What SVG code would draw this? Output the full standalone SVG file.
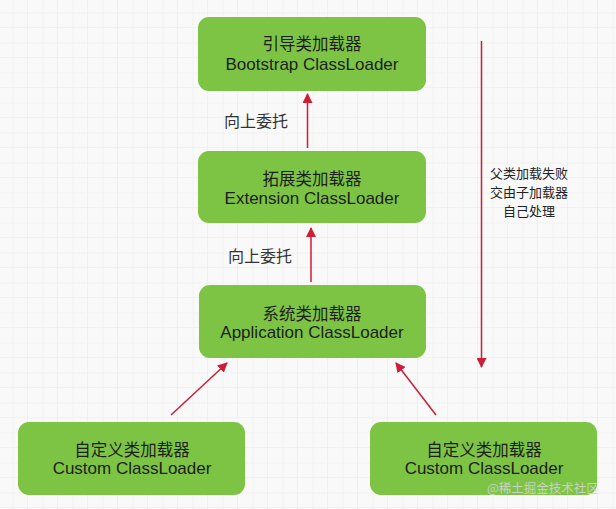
<svg xmlns="http://www.w3.org/2000/svg" width="616" height="509" viewBox="0 0 616 509">
<defs>
<pattern id="grid" x="-2" y="-2" width="30" height="30" patternUnits="userSpaceOnUse">
<path d="M30 0V30M0 30H30" fill="none" stroke="#e9e9e9" stroke-width="1.2"/>
<path d="M15 0V30M0 15H30" fill="none" stroke="#f1f1f1" stroke-width="0.8"/>
</pattern>
<marker id="ah" viewBox="0 0 10 10" refX="9" refY="5" markerWidth="10" markerHeight="10" markerUnits="userSpaceOnUse" orient="auto">
<path d="M0 0L10 5L0 10z" fill="#cc1e36"/>
</marker>
<style>
.box{fill:#7dc444;}
.zh{font-family:"Noto Sans CJK SC",sans-serif;font-size:16.5px;fill:#1d1d1d;text-anchor:middle;}
.en{font-family:"Liberation Sans",Arial,sans-serif;font-size:17px;fill:#1d1d1d;text-anchor:middle;}
.lbl{font-family:"Noto Sans CJK SC",sans-serif;font-size:16px;fill:#333;}
.note{font-family:"Noto Sans CJK SC",sans-serif;font-size:13px;fill:#222;text-anchor:middle;}
.edge{stroke:#cc1e36;stroke-width:1.5;fill:none;marker-end:url(#ah);}
</style>
</defs>
<rect width="616" height="509" fill="#f9f9f9"/>
<rect width="616" height="509" fill="url(#grid)"/>

<g id="bootstrap">
<rect class="box" x="198" y="17" width="228" height="74" rx="11"/>
<text class="zh" x="312" y="50">引导类加载器</text>
<text class="en" x="312" y="70">Bootstrap ClassLoader</text>
</g>
<g id="extension">
<rect class="box" x="198" y="151" width="228" height="72" rx="11"/>
<text class="zh" x="312" y="185">拓展类加载器</text>
<text class="en" x="312" y="204">Extension ClassLoader</text>
</g>
<g id="application">
<rect class="box" x="199" y="285" width="227" height="73" rx="11"/>
<text class="zh" x="312" y="320">系统类加载器</text>
<text class="en" x="312" y="338">Application ClassLoader</text>
</g>
<g id="custom1">
<rect class="box" x="18" y="422" width="227" height="73" rx="11"/>
<text class="zh" x="132" y="456">自定义类加载器</text>
<text class="en" x="132" y="474">Custom ClassLoader</text>
</g>
<g id="custom2">
<rect class="box" x="370" y="422" width="227" height="73" rx="11"/>
<text class="zh" x="484" y="456">自定义类加载器</text>
<text class="en" x="484" y="474">Custom ClassLoader</text>
</g>

<g id="connectors">
<line class="edge" x1="307.5" y1="148" x2="307.5" y2="94"/>
<line class="edge" x1="311" y1="282" x2="311" y2="228"/>
<line class="edge" x1="171" y1="415" x2="227" y2="363"/>
<line class="edge" x1="436" y1="415" x2="396" y2="363"/>
<line class="edge" x1="481.5" y1="41" x2="481.5" y2="367"/>
</g>

<g id="labels">
<text class="note" x="529" y="178">父类加载失败</text>
<text class="note" x="529" y="197">交由子加载器</text>
<text class="note" x="529" y="216">自己处理</text>
<text class="lbl" x="224" y="127">向上委托</text>
<text class="lbl" x="228" y="262">向上委托</text>
</g>

<text x="487" y="493" font-family="Noto Sans CJK SC,sans-serif" font-size="12.5" fill="#d4d4d4" fill-opacity="0.9">@稀土掘金技术社区</text>
</svg>
